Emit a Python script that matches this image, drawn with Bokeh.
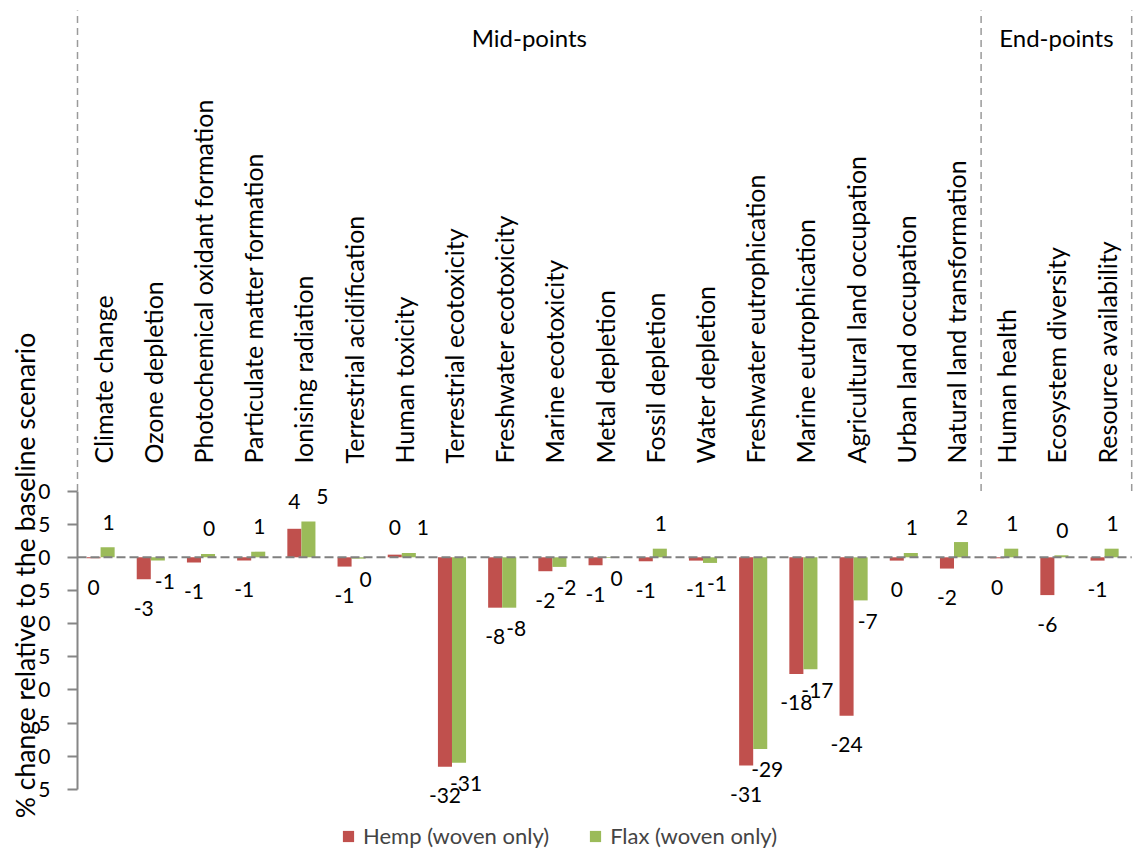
import numpy as np
from bokeh.plotting import figure
from bokeh.models import Range1d, FixedTicker, Legend, LegendItem, ColumnDataSource
from bokeh.core.properties import value
from bokeh.embed import file_html
from bokeh.resources import INLINE

# ---------------- data ----------------
categories = [
    "Climate change", "Ozone depletion", "Photochemical oxidant formation",
    "Particulate matter  formation", "Ionising radiation", "Terrestrial acidification",
    "Human  toxicity", "Terrestrial ecotoxicity", "Freshwater ecotoxicity",
    "Marine ecotoxicity", "Metal depletion", "Fossil depletion", "Water depletion",
    "Freshwater eutrophication", "Marine eutrophication", "Agricultural land occupation",
    "Urban land occupation", "Natural land transformation",
    "Human health", "Ecosystem diversity", "Resource availability",
]
groups = ["Mid-points", "End-points"]
group_sizes = [18, 3]

hemp = [-0.15, -3.3, -0.8, -0.5, 4.3, -1.4, 0.4, -31.6, -7.6, -2.1, -1.2,
        -0.6, -0.5, -31.4, -17.6, -23.9, -0.5, -1.7, -0.15, -5.7, -0.5]
flax = [1.5, -0.5, 0.5, 0.85, 5.4, -0.2, 0.65, -31.0, -7.6, -1.45, -0.1,
        1.3, -0.85, -28.9, -16.9, -6.5, 0.65, 2.3, 1.3, 0.3, 1.3]
hemp_labels = ["0", "-3", "-1", "-1", "4", "-1", "0", "-32", "-8", "-2", "-1",
               "-1", "-1", "-31", "-18", "-24", "0", "-2", "0", "-6", "-1"]
flax_labels = ["1", "-1", "0", "1", "5", "0", "1", "-31", "-8", "-2", "0",
               "1", "-1", "-29", "-17", "-7", "1", "2", "1", "0", "1"]
series_names = ["Hemp (woven only)", "Flax (woven only)"]
y_ticks = [-35, -30, -25, -20, -15, -10, -5, 0, 5, 10]
y_title = "% change relative to the baseline scenario"

# ---------------- layout / style ----------------
W, H = 1141, 857
PXY = 6.63          # pixels per % unit
ZERO = 556.8        # canvas row of the zero line
PXX = 50.2          # pixels per category
AXIS_X = 77         # canvas column of the value axis


def y_at(py):
    return (ZERO - py) / PXY


def x_at(px):
    return (px - AXIS_X) / PXX - 0.5


FONT = "Lato"
HEMP_C, FLAX_C = "#C0504D", "#9BBB59"
GREY = "#868686"
BW = 0.28

n = len(categories)
x = np.arange(n)

p = figure(width=W, height=H, x_range=Range1d(x_at(0), x_at(W)),
           y_range=Range1d(y_at(H), y_at(0)),
           output_backend="svg", toolbar_location=None, x_axis_location=None,
           min_border_left=0, min_border_right=0, min_border_top=0,
           min_border_bottom=0, outline_line_color=None)
p.grid.visible = False

hv, fv = np.array(hemp), np.array(flax)
src = ColumnDataSource(dict(
    xh=x - 0.18, xf=x + 0.10, hemp=hemp, flax=flax,
    hl=hemp_labels, fl=flax_labels,
    hoff=np.where(hv >= 0, -27, 29),
    foff=np.where(fv >= 0, -25, 21),
    # nudge flax labels right when they would collide with the hemp label
    fxo=np.where(fv >= 0, np.where(hv >= 0, 14, 1), 7),
))

rh = p.vbar(x="xh", top="hemp", bottom=0, width=BW, source=src,
            fill_color=HEMP_C, line_color=None)
rf = p.vbar(x="xf", top="flax", bottom=0, width=BW, source=src,
            fill_color=FLAX_C, line_color=None)

# dashed zero line across the categories
p.segment(x0=[-0.5], x1=[n - 0.5], y0=[0], y1=[0], line_color="#808080",
          line_width=2, line_dash="9 4")

p.text(x="xh", y="hemp", text="hl", y_offset="hoff", source=src,
       text_align="center", text_baseline="middle",
       text_font=value(FONT), text_font_size="21px", text_color="black")
p.text(x="xf", y="flax", text="fl", y_offset="foff", x_offset="fxo", source=src,
       text_align="center", text_baseline="middle",
       text_font=value(FONT), text_font_size="21px", text_color="black")

# category labels (vertical)
p.text(x=x, y=[y_at(463)] * n, text=categories, angle=np.pi / 2,
       text_align="left", text_baseline="middle",
       text_font=value(FONT), text_font_size="25px", text_color="black")

# group separators and headings
bounds = np.concatenate([[0], np.cumsum(group_sizes)]) - 0.5
p.segment(x0=bounds, x1=bounds, y0=[max(y_ticks)] * len(bounds),
          y1=[y_at(10)] * len(bounds),
          line_color="#9A9A9A", line_width=1.5, line_dash="7 5")
centers = [(bounds[i] + bounds[i + 1]) / 2 for i in range(len(groups))]
p.text(x=centers, y=[y_at(37)] * len(groups), text=groups,
       text_align="center", text_baseline="middle",
       text_font=value(FONT), text_font_size="24px", text_color="black")

# value axis title
p.text(x=[x_at(24)], y=[y_at(575)], text=[y_title], angle=np.pi / 2,
       text_align="center", text_baseline="middle",
       text_font=value(FONT), text_font_size="26.5px", text_color="black")

# y axis drawn at the left edge of the first category
ax = p.yaxis[0]
ax.fixed_location = -0.5
ax.bounds = (min(y_ticks), max(y_ticks))
ax.ticker = FixedTicker(ticks=y_ticks)
ax.major_label_overrides = {t: str(abs(t))[-1] for t in y_ticks}
ax.axis_line_color = GREY
ax.axis_line_width = 2
ax.major_tick_line_color = GREY
ax.major_tick_line_width = 2
ax.major_tick_out = 10
ax.major_tick_in = 0
ax.minor_tick_line_color = None
ax.major_label_text_font = FONT
ax.major_label_text_font_size = "21px"
ax.major_label_text_color = "black"
ax.major_label_standoff = 17

legend = Legend(items=[LegendItem(label=series_names[0], renderers=[rh]),
                       LegendItem(label=series_names[1], renderers=[rf])],
                orientation="horizontal", location=(341, 8),
                padding=0, margin=0, spacing=39, border_line_color=None,
                background_fill_alpha=0, glyph_width=14, glyph_height=14,
                label_height=15, label_standoff=8,
                label_text_font=FONT, label_text_font_size="22px")
p.add_layout(legend)

open("out.html", "w").write(file_html(p, INLINE))
